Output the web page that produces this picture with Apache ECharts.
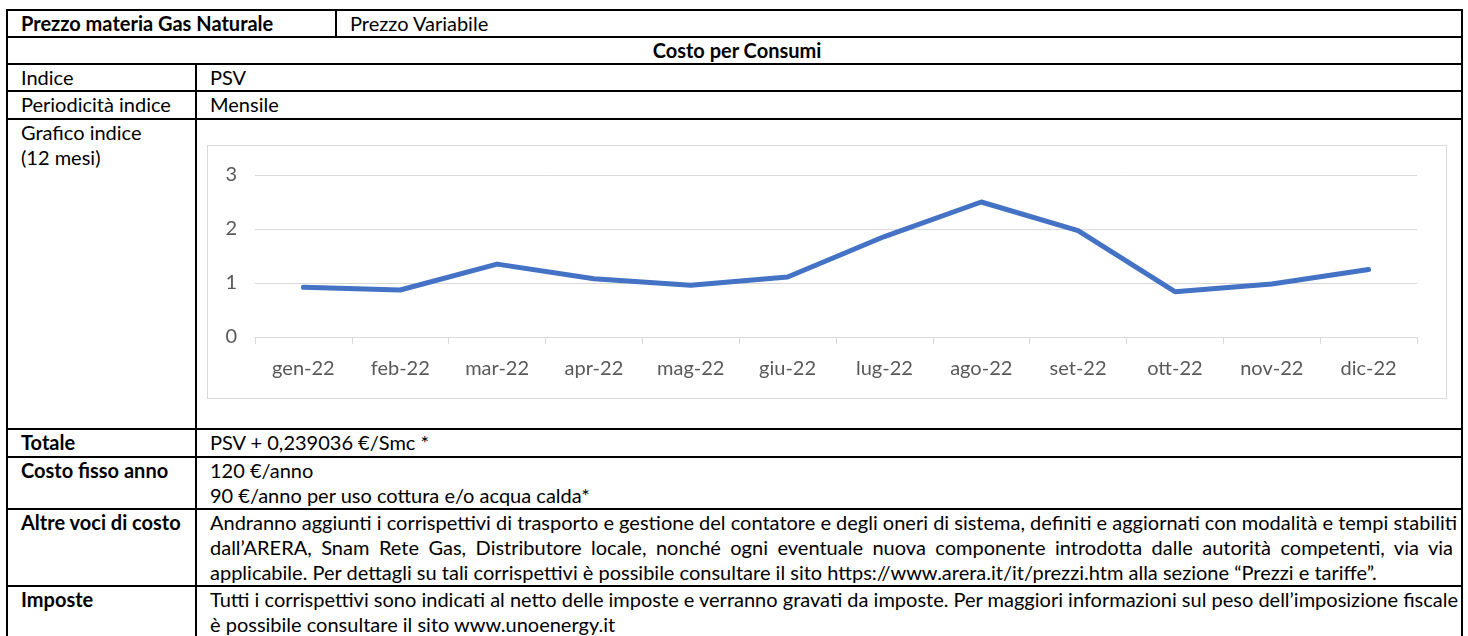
<!DOCTYPE html>
<html lang="it">
<head>
<meta charset="utf-8">
<title>Prezzo materia Gas Naturale</title>
<script src="https://cdn.jsdelivr.net/npm/echarts@6/dist/echarts.min.js"></script>
<style>
    html, body { margin: 0; padding: 0; background: #fff; width: 1468px; height: 636px; overflow: hidden; }
    body { position: relative; font-family: Lato, "Liberation Sans", sans-serif; font-size: 20px; color: #000; }
    table.scheda {
        position: absolute; left: 6px; top: 9px; width: 1457px;
        border-collapse: collapse; table-layout: fixed;
    }
    table.scheda td {
        border: 2px solid #000; padding: 0 8px 0 13px; vertical-align: top;
        line-height: 25px; overflow: hidden; white-space: nowrap;
    }
    td.b { font-weight: bold; }
    td.c { text-align: center; }
    .just { display: block; text-align: justify; text-align-last: justify; }
    .last { display: block; }
    #chartBox {
        position: absolute; left: 207px; top: 145px; width: 1240px; height: 254px;
        border: 1px solid #d9d9d9; box-sizing: border-box; background: #fff;
    }
    #chart { width: 100%; height: 100%; }
</style>
</head>
<body>
<table class="scheda">
    <colgroup><col style="width:189px"><col style="width:140px"><col></colgroup>
    <tr style="height:27px"><td class="b" colspan="2">Prezzo materia Gas Naturale</td><td>Prezzo Variabile</td></tr>
    <tr style="height:26px"><td class="b c" colspan="3">Costo per Consumi</td></tr>
    <tr style="height:27px"><td>Indice</td><td colspan="2">PSV</td></tr>
    <tr style="height:28px"><td>Periodicità indice</td><td colspan="2">Mensile</td></tr>
    <tr style="height:310px"><td>Grafico indice<br>(12 mesi)</td><td colspan="2"></td></tr>
    <tr style="height:28px"><td class="b">Totale</td><td colspan="2">PSV + 0,239036 €/Smc *</td></tr>
    <tr style="height:52px"><td class="b">Costo fisso anno</td><td colspan="2">120 €/anno<br>90 €/anno per uso cottura e/o acqua calda*</td></tr>
    <tr style="height:77px"><td class="b">Altre voci di costo</td><td colspan="2">
        <span class="just">Andranno aggiunti i corrispettivi di trasporto e gestione del contatore e degli oneri di sistema, definiti e aggiornati con modalità e tempi stabiliti</span>
        <span class="just">dall’ARERA, Snam Rete Gas, Distributore locale, nonché ogni eventuale nuova componente introdotta dalle autorità competenti, via via</span>
        <span class="last">applicabile. Per dettagli su tali corrispettivi è possibile consultare il sito https://www.arera.it/it/prezzi.htm alla sezione “Prezzi e tariffe”.</span>
    </td></tr>
    <tr style="height:60px"><td class="b">Imposte</td><td colspan="2">
        <span class="just">Tutti i corrispettivi sono indicati al netto delle imposte e verranno gravati da imposte. Per maggiori informazioni sul peso dell’imposizione fiscale</span>
        <span class="last">è possibile consultare il sito www.unoenergy.it</span>
    </td></tr>
</table>

<div id="chartBox"><div id="chart"></div></div>

<script>
// indice PSV, 12 mesi
const mesi = ['gen-22', 'feb-22', 'mar-22', 'apr-22', 'mag-22', 'giu-22',
              'lug-22', 'ago-22', 'set-22', 'ott-22', 'nov-22', 'dic-22'];
const psv = [0.92, 0.87, 1.35, 1.08, 0.96, 1.11, 1.86, 2.50, 1.97, 0.84, 0.98, 1.25];
const yTicks = [0, 1, 2, 3];

document.addEventListener('DOMContentLoaded', function () {
    const grigio = '#d9d9d9';
    const testo = '#595959';

    var chart = echarts.init(document.getElementById('chart'));
    chart.setOption({
        animation: false,
        grid: { left: 47, right: 29, top: 29, bottom: 61 },
        xAxis: {
            type: 'category',
            data: mesi,
            boundaryGap: true,
            axisLine: { lineStyle: { color: grigio, width: 1 } },
            axisTick: { show: true, length: 7, lineStyle: { color: grigio } },
            axisLabel: { color: testo, fontSize: 20, fontFamily: 'Lato', margin: 22 }
        },
        yAxis: {
            type: 'value',
            min: yTicks[0],
            max: yTicks[yTicks.length - 1],
            interval: 1,
            axisLine: { show: false },
            axisTick: { show: false },
            splitLine: { lineStyle: { color: grigio, width: 1 } },
            axisLabel: { color: testo, fontSize: 20, fontFamily: 'Lato', margin: 18 }
        },
        series: [{
            type: 'line',
            data: psv,
            showSymbol: false,
            lineStyle: { width: 5, color: '#4472C4', cap: 'round', join: 'round' }
        }]
    });
});
</script>
</body>
</html>
